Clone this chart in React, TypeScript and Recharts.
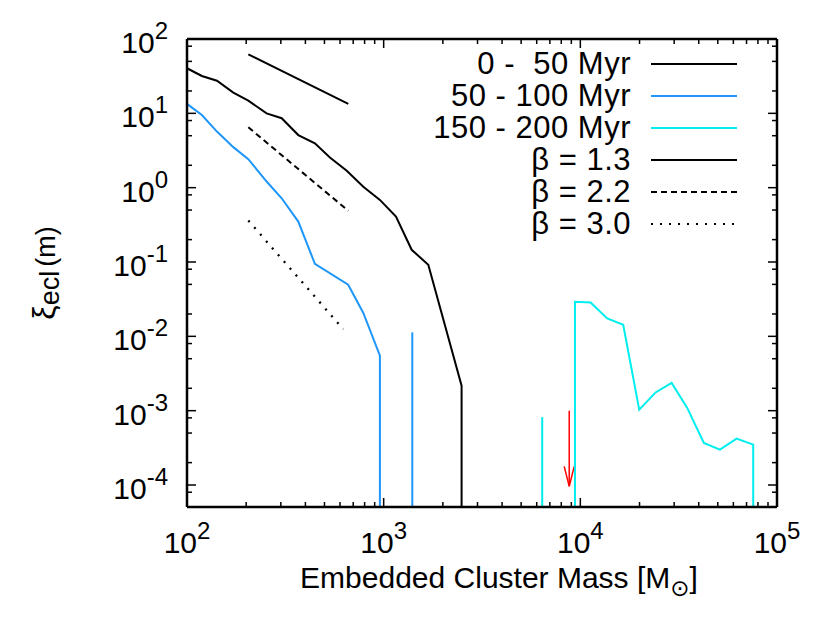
import { Legend, Line, LineChart, ReferenceLine, XAxis, YAxis } from "recharts";

const FONT = '"Liberation Sans", Arial, Helvetica, sans-serif';

// plot frame in page pixels (gnuplot-style box)
const CHART_W = 830;
const CHART_H = 620;
const PLOT_LEFT = 187;
const PLOT_TOP = 39;
const PLOT_RIGHT = 777;
const PLOT_BOTTOM = 507;
const PLOT_W = PLOT_RIGHT - PLOT_LEFT;
const PLOT_H = PLOT_BOTTOM - PLOT_TOP;
const Y_AXIS_W = 100;
const X_AXIS_H = 60;

const X_MIN = 100;
const X_MAX = 100000;
const Y_MIN = 5.06e-5;
const Y_MAX = 100;

const xTicks = [
  100, 200, 300, 400, 500, 600, 700, 800, 900,
  1000, 2000, 3000, 4000, 5000, 6000, 7000, 8000, 9000,
  10000, 20000, 30000, 40000, 50000, 60000, 70000, 80000, 90000,
  100000,
];
const yTicks = [
  8e-5, 1e-4, 2e-4, 5e-4, 8e-4, 1e-3, 2e-3, 5e-3, 8e-3, 1e-2, 2e-2, 5e-2, 8e-2,
  1e-1, 2e-1, 5e-1, 8e-1, 1, 2, 5, 8, 10, 20, 50, 80, 100,
];

// 0 - 50 Myr
const youngMass = [100, 119, 142, 172, 205, 254, 303, 368, 447, 533, 649, 788, 957, 1155, 1388, 1686, 2490, 2490];
const youngXi = [40.4, 31.8, 27.5, 19.0, 14.8, 10.0, 8.6, 5.1, 3.96, 2.54, 1.69, 1.03, 0.685, 0.408, 0.146, 0.0917, 0.00217, Y_MIN];

// 50 - 100 Myr
const midMass = [100, 119, 142, 172, 205, 254, 303, 368, 447, 660, 788, 957, 957];
const midXi = [13.4, 9.5, 5.68, 3.51, 2.42, 1.21, 0.72, 0.35, 0.0947, 0.0494, 0.0206, 0.00548, Y_MIN];
const midSpikeMass = [1398, 1398];
const midSpikeXi = [0.0113, Y_MIN];

// 150 - 200 Myr
const oldSpikeMass = [6400, 6400];
const oldSpikeXi = [8.2e-4, Y_MIN];
const oldMass = [9390, 9390, 11280, 13700, 16520, 19930, 24140, 29120, 34960, 42460, 51250, 62320, 75690, 75690];
const oldXi = [Y_MIN, 0.0292, 0.0286, 0.0174, 0.0143, 0.00103, 0.00176, 0.00236, 0.00109, 3.68e-4, 2.99e-4, 4.21e-4, 3.49e-4, Y_MIN];

// power-law guides
const beta13Mass = [205, 661];
const beta13Xi = [62.3, 13.4];
const beta22Mass = [205, 661];
const beta22Xi = [6.5, 0.488];
const beta30Mass = [205, 623];
const beta30Xi = [0.361, 0.0125];

// red arrow
const arrowShaftMass = [8780, 8780];
const arrowShaftXi = [1e-3, 9.6e-5];
const arrowHeadMass = [8280, 8780, 9310];
const arrowHeadXi = [1.78e-4, 9.6e-5, 1.78e-4];

const pts = (xs: number[], ys: number[]) => xs.map((x, i) => ({ x, y: ys[i] }));

const BLUE = "#1e96fa";
const CYAN = "#00eeee";
const DASHED = "6 4";
const DOTTED = "2 7";

const legendRows = [
  { label: "0 -  50 Myr", stroke: "#000000", dash: undefined },
  { label: "50 - 100 Myr", stroke: BLUE, dash: undefined },
  { label: "150 - 200 Myr", stroke: CYAN, dash: undefined },
  { label: "\u03b2 = 1.3", stroke: "#000000", dash: undefined },
  { label: "\u03b2 = 2.2", stroke: "#000000", dash: DASHED },
  { label: "\u03b2 = 3.0", stroke: "#000000", dash: DOTTED },
];

function isMajor(v: number) {
  const l = Math.log10(v);
  return Math.abs(l - Math.round(l)) < 1e-6;
}

function XTick({ x, y, payload }: any) {
  const v = payload.value;
  const major = isMajor(v);
  const len = major ? 9 : 5;
  return (
    <g>
      <line x1={x} y1={y} x2={x} y2={y - len} stroke="#000" strokeWidth={1.5} />
      <line x1={x} y1={y - PLOT_H} x2={x} y2={y - PLOT_H + len} stroke="#000" strokeWidth={1.5} />
      {major && (
        <text x={x} y={y + 46} textAnchor="middle" fontFamily={FONT} fontSize={30} fill="#000">
          10
          <tspan dy={-14} fontSize={24}>
            {Math.round(Math.log10(v))}
          </tspan>
        </text>
      )}
    </g>
  );
}

function YTick({ x, y, payload }: any) {
  const v = payload.value;
  const major = isMajor(v);
  const len = major ? 9 : 5;
  return (
    <g>
      <line x1={x} y1={y} x2={x + len} y2={y} stroke="#000" strokeWidth={1.5} />
      <line x1={x + PLOT_W} y1={y} x2={x + PLOT_W - len} y2={y} stroke="#000" strokeWidth={1.5} />
      {major && (
        <text x={x - 19} y={y + 14} textAnchor="end" fontFamily={FONT} fontSize={30} fill="#000">
          10
          <tspan dy={-14} fontSize={24}>
            {Math.round(Math.log10(v))}
          </tspan>
        </text>
      )}
    </g>
  );
}

function YTitle() {
  const cx = 55;
  const cy = PLOT_TOP + PLOT_H / 2;
  return (
    <text
      x={cx}
      y={cy}
      transform={`rotate(-90 ${cx} ${cy})`}
      textAnchor="middle"
      fontFamily={FONT}
      fontSize={32}
      fill="#000"
    >
      {"\u03be"}
      <tspan fontSize={27} dy={4}>
        ecl
      </tspan>
      <tspan fontSize={27} dy={-4} dx={4}>
        (m)
      </tspan>
    </text>
  );
}

function XTitle() {
  return (
    <text x={499} y={588} textAnchor="middle" fontFamily={FONT} fontSize={30} fill="#000">
      Embedded Cluster Mass [M
      <tspan fontSize={23} dy={8} fontFamily="DejaVu Sans">
        {"\u2299"}
      </tspan>
      <tspan dy={-8}>]</tspan>
    </text>
  );
}

function KeyBox() {
  return (
    <div style={{ fontFamily: FONT, fontSize: 31, letterSpacing: 0.5, color: "#000" }}>
      {legendRows.map((row) => (
        <div key={row.label} style={{ display: "flex", alignItems: "center", height: 32 }}>
          <span style={{ width: 231, textAlign: "right", whiteSpace: "pre", lineHeight: "32px" }}>
            {row.label}
          </span>
          <svg width={106} height={32} style={{ display: "block" }}>
            <line
              x1={20}
              x2={106}
              y1={16}
              y2={16}
              stroke={row.stroke}
              strokeWidth={2}
              strokeDasharray={row.dash}
            />
          </svg>
        </div>
      ))}
    </div>
  );
}

export default function App() {
  return (
    <div style={{ position: "absolute", left: 0, top: 0, background: "#fff" }}>
      <LineChart
        width={CHART_W}
        height={CHART_H}
        margin={{
          top: PLOT_TOP,
          right: CHART_W - PLOT_RIGHT,
          bottom: CHART_H - PLOT_BOTTOM - X_AXIS_H,
          left: PLOT_LEFT - Y_AXIS_W,
        }}
      >
        <XAxis
          dataKey="x"
          type="number"
          scale="log"
          domain={[X_MIN, X_MAX]}
          allowDataOverflow
          ticks={xTicks}
          interval={0}
          tick={<XTick />}
          tickLine={false}
          tickSize={0}
          tickMargin={0}
          height={X_AXIS_H}
          axisLine={{ stroke: "#000", strokeWidth: 2.5 }}
          label={() => <XTitle />}
        />
        <YAxis
          dataKey="y"
          type="number"
          scale="log"
          domain={[Y_MIN, Y_MAX]}
          allowDataOverflow
          ticks={yTicks}
          interval={0}
          tick={<YTick />}
          tickLine={false}
          tickSize={0}
          tickMargin={0}
          width={Y_AXIS_W}
          axisLine={{ stroke: "#000", strokeWidth: 2.5 }}
          label={() => <YTitle />}
        />
        <ReferenceLine y={Y_MAX} stroke="#000" strokeWidth={2.5} />
        <ReferenceLine x={X_MAX} stroke="#000" strokeWidth={2.5} />
        <Legend
          layout="vertical"
          align="center"
          verticalAlign="middle"
          content={() => <KeyBox />}
          wrapperStyle={{ left: 400, top: 48, width: 337, height: 192 }}
        />

        <Line data={pts(beta13Mass, beta13Xi)} dataKey="y" stroke="#000" strokeWidth={2} dot={false} isAnimationActive={false} legendType="none" />
        <Line data={pts(beta22Mass, beta22Xi)} dataKey="y" stroke="#000" strokeWidth={2} strokeDasharray={DASHED} dot={false} isAnimationActive={false} legendType="none" />
        <Line data={pts(beta30Mass, beta30Xi)} dataKey="y" stroke="#000" strokeWidth={2.3} strokeDasharray={DOTTED} dot={false} isAnimationActive={false} legendType="none" />

        <Line data={pts(arrowShaftMass, arrowShaftXi)} dataKey="y" stroke="#ff0000" strokeWidth={1.5} dot={false} isAnimationActive={false} legendType="none" />
        <Line data={pts(arrowHeadMass, arrowHeadXi)} dataKey="y" stroke="#ff0000" strokeWidth={1.5} dot={false} isAnimationActive={false} legendType="none" />

        <Line data={pts(youngMass, youngXi)} dataKey="y" name="0 -  50 Myr" stroke="#000" strokeWidth={2} dot={false} isAnimationActive={false} />
        <Line data={pts(midMass, midXi)} dataKey="y" name="50 - 100 Myr" stroke={BLUE} strokeWidth={2} dot={false} isAnimationActive={false} />
        <Line data={pts(midSpikeMass, midSpikeXi)} dataKey="y" stroke={BLUE} strokeWidth={2} dot={false} isAnimationActive={false} legendType="none" />
        <Line data={pts(oldSpikeMass, oldSpikeXi)} dataKey="y" stroke={CYAN} strokeWidth={2} dot={false} isAnimationActive={false} legendType="none" />
        <Line data={pts(oldMass, oldXi)} dataKey="y" name="150 - 200 Myr" stroke={CYAN} strokeWidth={2} dot={false} isAnimationActive={false} />
      </LineChart>
    </div>
  );
}
